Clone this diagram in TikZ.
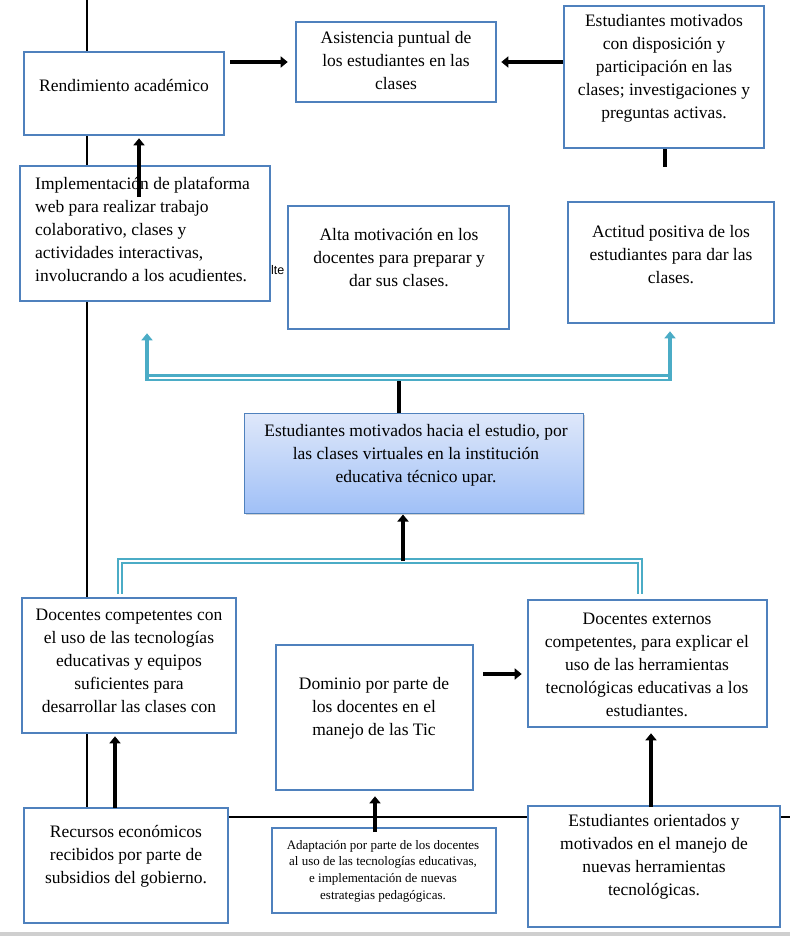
\documentclass[tikz,border=0pt]{standalone}
\usepackage{fontspec}
\setmainfont{Liberation Serif}
\newfontfamily\artsans{Liberation Sans}
\usetikzlibrary{arrows.meta,positioning,calc,shadows}
\definecolor{boxblue}{HTML}{4F81BD}
\definecolor{linkcyan}{HTML}{4BACC6}
\definecolor{shadetop}{HTML}{DFE8FA}
\definecolor{shadebot}{HTML}{A0C0F7}

\begin{document}
\begin{tikzpicture}[x=1pt,y=-1pt,every node/.style={font=\fontsize{17.5}{23}\selectfont,align=center,inner sep=0pt},box/.style={draw=boxblue,line width=2.6pt,fill=white},grad/.style={draw=boxblue,line width=1pt,top color=shadetop,bottom color=shadebot,drop shadow={shadow xshift=1.5pt,shadow yshift=-2pt,opacity=0.35}},arrow/.style={-{Triangle[length=7pt,width=11pt]},line width=4.6pt},stub/.style={line width=4.6pt},link/.style={draw=linkcyan,line width=2.3pt,double=white,double distance=2pt},linkarrow/.style={-{Triangle[length=7pt,width=11pt]},draw=linkcyan,line width=4.4pt}]
\useasboundingbox (0,0) rectangle (790,936);
\fill[black!19] (0,931.5) rectangle (790,936);
\draw[line width=1.8pt] (87,0) -- (87,817) -- (790,817);
\node[font=\artsans\fontsize{12.5}{14}\selectfont,anchor=west] (alte) at (271,270) {lte};
\node[box,minimum width=200pt,minimum height=83pt] (rend) at (124,93.5) {};
\node[box,minimum width=200pt,minimum height=80pt] (asist) at (396,62) {};
\node[box,minimum width=200pt,minimum height=142pt] (motiv) at (664,77) {};
\node[box,minimum width=250pt,minimum height=135pt] (impl) at (145,233.5) {};
\node[box,minimum width=221pt,minimum height=123pt] (alta) at (398.5,267.5) {};
\node[box,minimum width=206pt,minimum height=121pt] (actitud) at (671,262.5) {};
\node[grad,minimum width=339pt,minimum height=100pt] (central) at (413.5,463) {};
\node[box,minimum width=214pt,minimum height=135pt] (comp) at (129,665.5) {};
\node[box,minimum width=197pt,minimum height=145pt] (dom) at (374.5,717.5) {};
\node[box,minimum width=239pt,minimum height=127pt] (ext) at (647.5,663.5) {};
\node[box,minimum width=204pt,minimum height=115pt] (rec) at (126,865.5) {};
\node[box,minimum width=224pt,minimum height=85pt] (adap) at (384,870.5) {};
\node[box,minimum width=252pt,minimum height=121pt] (orient) at (654,866.5) {};
\node (rendtxt) at (124,86) {Rendimiento académico};
\node (asisttxt) at (396,61) {Asistencia puntual de\\los estudiantes en las\\clases};
\node (motivtxt) at (664,68) {Estudiantes motivados\\con disposición y\\participación en las\\clases; investigaciones y\\preguntas activas.};
\node[align=left,anchor=west] (impltxt) at (35,229) {Implementación de plataforma\\web para realizar trabajo\\colaborativo, clases y\\actividades interactivas,\\involucrando a los acudientes.};
\node (altatxt) at (399,258) {Alta motivación en los\\docentes para preparar y\\dar sus clases.};
\node (actitudtxt) at (671,255) {Actitud positiva de los\\estudiantes para dar las\\clases.};
\node (centraltxt) at (416,455) {Estudiantes motivados hacia el estudio, por\\las clases virtuales en la institución\\educativa técnico upar.};
\node (comptxt) at (129,661) {Docentes competentes con\\el uso de las tecnologías\\educativas y equipos\\suficientes para\\desarrollar las clases con};
\node (domtxt) at (374,708) {Dominio por parte de\\los docentes en el\\manejo de las Tic};
\node (exttxt) at (647,665) {Docentes externos\\competentes, para explicar el\\uso de las herramientas\\tecnológicas educativas a los\\estudiantes.};
\node (rectxt) at (126,856) {Recursos económicos\\recibidos por parte de\\subsidios del gobierno.};
\node[font=\fontsize{13}{16.7}\selectfont] (adaptxt) at (383,871) {Adaptación por parte de los docentes\\al uso de las tecnologías educativas,\\e implementación de nuevas\\estrategias pedagógicas.};
\node (orienttxt) at (654,857) {Estudiantes orientados y\\motivados en el manejo de\\nuevas herramientas\\tecnológicas.};
\coordinate (implup) at (139,197); \coordinate (motivstub) at (665,167); \coordinate (topmid) at (399,381);
\coordinate (tl) at (147,377.5); \coordinate (tr) at (670,377.5);
\coordinate (bl) at (120,594); \coordinate (br) at (640,594); \coordinate (botmid) at (403,561);
\coordinate (domarr) at (483,674); \coordinate (recup) at (115,808); \coordinate (adapup) at (375,832); \coordinate (orientup) at (651,807);
\draw[arrow,shorten <=5pt,shorten >=7pt] (rend.east |- asist.west) -- (asist.west);
\draw[arrow,shorten >=4pt] (motiv.west |- asist.east) -- (asist.east);
\draw[arrow,shorten >=2pt] (implup) -- (implup |- rend.south);
\draw[stub] (motivstub |- motiv.south) -- (motivstub);
\draw[link] (tl) -- (tr);
\draw[linkarrow,shorten >=3pt] ([yshift=-3pt]tl) -- (tl |- alta.south);
\draw[linkarrow,shorten >=7pt] ([yshift=-3pt]tr) -- (tr |- actitud.south);
\draw[stub] (topmid) -- (topmid |- central.north);
\draw[link] (bl) -- (bl |- botmid) -- (br |- botmid) -- (br);
\draw[arrow,shorten >=1pt] (botmid) -- (botmid |- central.south);
\draw[arrow,shorten >=5pt] (domarr) -- (domarr -| ext.west);
\draw[arrow,shorten >=2pt] (recup) -- (recup |- comp.south);
\draw[arrow,shorten >=5pt] (adapup) -- (adapup |- dom.south);
\draw[arrow,shorten >=5pt] (orientup) -- (orientup |- ext.south);
\end{tikzpicture}
\end{document}
